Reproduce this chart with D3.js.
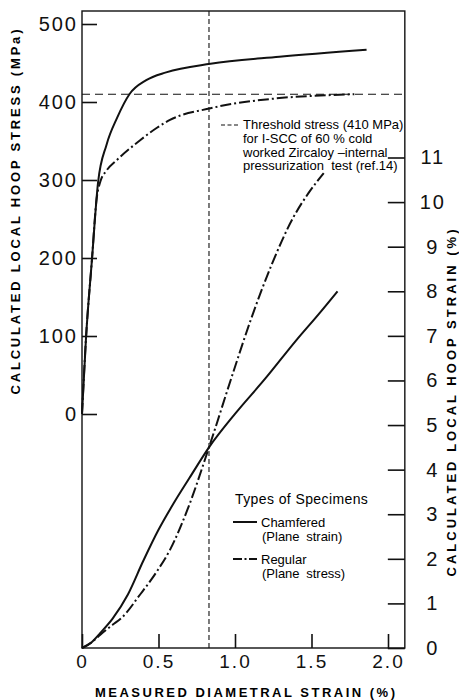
<!DOCTYPE html>
<html>
<head>
<meta charset="utf-8">
<script src="https://cdn.jsdelivr.net/npm/d3@7"></script>
<style>
  body { margin: 0; background: #fff; }
  svg { display: block; font-family: "Liberation Sans", Arial, sans-serif; }
</style>
</head>
<body>
<div id="chart"></div>
<script>
// ticks
const xTicks = [0, 0.5, 1.0, 1.5, 2.0];
const xTickLabels = ['0', '0.5', '1.0', '1.5', '2.0'];
const stressTicks = [0, 100, 200, 300, 400, 500];
const strainTicks = [0, 1, 2, 3, 4, 5, 6, 7, 8, 9, 10, 11];

const thresholdStress = 410;   // MPa, horizontal dashed line
const markerDiametral = 0.83;  // %, vertical dashed line

// [measured diametral strain %, local hoop stress MPa]
const chamferedStress = [[0, 0], [0.026, 97], [0.065, 198], [0.105, 297], [0.16, 345], [0.23, 380],
  [0.31, 410], [0.42, 428], [0.55, 438], [0.84, 449], [1.29, 458], [1.86, 467]];
const regularStress = [[0, 0], [0.026, 97], [0.065, 198], [0.095, 275], [0.12, 298], [0.16, 312],
  [0.23, 326], [0.38, 351], [0.49, 367], [0.575, 377], [0.84, 392], [1.29, 405], [1.64, 409], [1.78, 410]];

// [measured diametral strain %, local hoop strain %]
const chamferedStrain = [[0, 0], [0.06, 0.12], [0.12, 0.34], [0.2, 0.66], [0.3, 1.2], [0.4, 1.95],
  [0.5, 2.65], [0.6, 3.25], [0.7, 3.8], [0.83, 4.5], [1.0, 5.25], [1.2, 6.05], [1.4, 6.9],
  [1.55, 7.5], [1.67, 8.0]];
const regularStrain = [[0, 0], [0.06, 0.12], [0.12, 0.3], [0.2, 0.52], [0.26, 0.68], [0.38, 1.2],
  [0.49, 1.72], [0.575, 2.2], [0.7, 3.2], [0.83, 4.5], [0.99, 6.2], [1.1, 7.33], [1.24, 8.6],
  [1.38, 9.65], [1.48, 10.2], [1.58, 10.65]];

const W = 459, H = 700;
const dashDot = '11,3,2,3';

let svg = d3.select('#chart').append('svg')
    .attr('width', W)
    .attr('height', H);

let x = d3.scaleLinear().domain([0, 2]).range([82, 388]);
let yL = d3.scaleLinear().domain([0, 500]).range([414, 24]);
let yR = d3.scaleLinear().domain([0, 11]).range([648, 157.5]);

const frameL = x(0), frameR = x(2.11), frameT = 11, frameB = yR(0);

// frame
svg.append('rect')
    .attr('x', frameL)
    .attr('y', frameT)
    .attr('width', frameR - frameL)
    .attr('height', frameB - frameT)
    .attr('fill', 'none')
    .attr('stroke', '#111')
    .attr('stroke-width', 1.4);

// threshold + marker lines
svg.append('line')
    .attr('x1', frameL).attr('x2', frameR)
    .attr('y1', yL(thresholdStress)).attr('y2', yL(thresholdStress))
    .attr('stroke', '#111').attr('stroke-width', 1.1)
    .attr('stroke-dasharray', '8,5');
svg.append('line')
    .attr('x1', x(markerDiametral)).attr('x2', x(markerDiametral))
    .attr('y1', frameT).attr('y2', frameB)
    .attr('stroke', '#111').attr('stroke-width', 1.1)
    .attr('stroke-dasharray', '5,3');

let stressLine = d3.line()
    .x(d => x(d[0]))
    .y(d => yL(d[1]))
    .curve(d3.curveMonotoneX);
let strainLine = d3.line()
    .x(d => x(d[0]))
    .y(d => yR(d[1]))
    .curve(d3.curveMonotoneX);

const curves = [
  { data: chamferedStress, line: stressLine, dash: null },
  { data: regularStress, line: stressLine, dash: dashDot },
  { data: chamferedStrain, line: strainLine, dash: null },
  { data: regularStrain, line: strainLine, dash: dashDot }
];
curves.forEach(c => {
  svg.append('path')
      .datum(c.data)
      .attr('d', c.line)
      .attr('fill', 'none')
      .attr('stroke', '#111')
      .attr('stroke-width', 2)
      .attr('stroke-dasharray', c.dash);
});

// axes, ticks point inward
let leftAxis = d3.axisLeft(yL)
    .tickValues(stressTicks)
    .tickSize(-15)
    .tickPadding(4);
let rightAxis = d3.axisRight(yR)
    .tickValues(strainTicks)
    .tickSize(-17)
    .tickPadding(28);
let bottomAxis = d3.axisBottom(x)
    .tickValues(xTicks)
    .tickFormat((d, i) => xTickLabels[i])
    .tickSize(-14)
    .tickPadding(7);

const styleAxis = (g, size) => {
  g.select('.domain').remove();
  g.selectAll('.tick line').attr('stroke', '#111').attr('stroke-width', 1.6);
  g.selectAll('.tick text')
      .attr('fill', '#111')
      .style('font-size', size + 'px')
      .style('font-family', '"Liberation Sans", Arial, sans-serif')
      .style('letter-spacing', '2px');
};

svg.append('g')
    .attr('transform', `translate(${frameL},0)`)
    .call(leftAxis)
    .call(g => styleAxis(g, 20));
svg.append('g')
    .attr('transform', `translate(${frameR},0)`)
    .call(rightAxis)
    .call(g => styleAxis(g, 20))
    .call(g => g.selectAll('.tick text').attr('text-anchor', 'middle'));
svg.append('g')
    .attr('transform', `translate(0,${frameB})`)
    .call(bottomAxis)
    .call(g => styleAxis(g, 19));

// axis titles
svg.append('text')
    .attr('transform', 'translate(20,212) rotate(-90)')
    .attr('text-anchor', 'middle')
    .attr('textLength', 365)
    .attr('lengthAdjust', 'spacing')
    .style('font-size', '13px')
    .style('font-weight', 'bold')
    .text('CALCULATED LOCAL HOOP STRESS (MPa)');
svg.append('text')
    .attr('transform', 'translate(456,403) rotate(-90)')
    .attr('text-anchor', 'middle')
    .attr('textLength', 347)
    .attr('lengthAdjust', 'spacing')
    .style('font-size', '13px')
    .style('font-weight', 'bold')
    .text('CALCULATED LOCAL HOOP STRAIN (%)');
svg.append('text')
    .attr('x', 245)
    .attr('y', 697)
    .attr('text-anchor', 'middle')
    .attr('textLength', 300)
    .attr('lengthAdjust', 'spacing')
    .style('font-size', '13px')
    .style('font-weight', 'bold')
    .text('MEASURED DIAMETRAL STRAIN (%)');

// threshold note
const note = ['Threshold stress (410 MPa)', 'for I-SCC of 60 % cold',
  'worked Zircaloy –internal', 'pressurization  test (ref.14)'];
svg.append('line')
    .attr('x1', 221).attr('x2', 240)
    .attr('y1', 125).attr('y2', 125)
    .attr('stroke', '#111').attr('stroke-width', 1.1)
    .attr('stroke-dasharray', '4,2.5');
svg.selectAll('.note')
    .data(note)
    .enter().append('text')
    .attr('class', 'note')
    .attr('x', 243)
    .attr('y', (d, i) => 129 + i * 13.8)
    .style('font-size', '13px')
    .style('white-space', 'pre')
    .text(d => d);

// legend
svg.append('text')
    .attr('x', 235)
    .attr('y', 504)
    .style('font-size', '14px')
    .style('letter-spacing', '0.4px')
    .text('Types of Specimens');

const legend = [
  { name: 'Chamfered', sub: '(Plane strain)', dash: null, y: 522 },
  { name: 'Regular', sub: '(Plane stress)', dash: '9,2.5,2,2.5', y: 559 }
];
legend.forEach(l => {
  svg.append('line')
      .attr('x1', 233).attr('x2', 257)
      .attr('y1', l.y).attr('y2', l.y)
      .attr('stroke', '#111')
      .attr('stroke-width', 2)
      .attr('stroke-dasharray', l.dash);
  svg.append('text')
      .attr('x', 261)
      .attr('y', l.y + 5)
      .style('font-size', '13px')
      .text(l.name);
  svg.append('text')
      .attr('x', 262)
      .attr('y', l.y + 19)
      .style('font-size', '13px')
      .style('word-spacing', '3px')
      .text(l.sub);
});
</script>
</body>
</html>
